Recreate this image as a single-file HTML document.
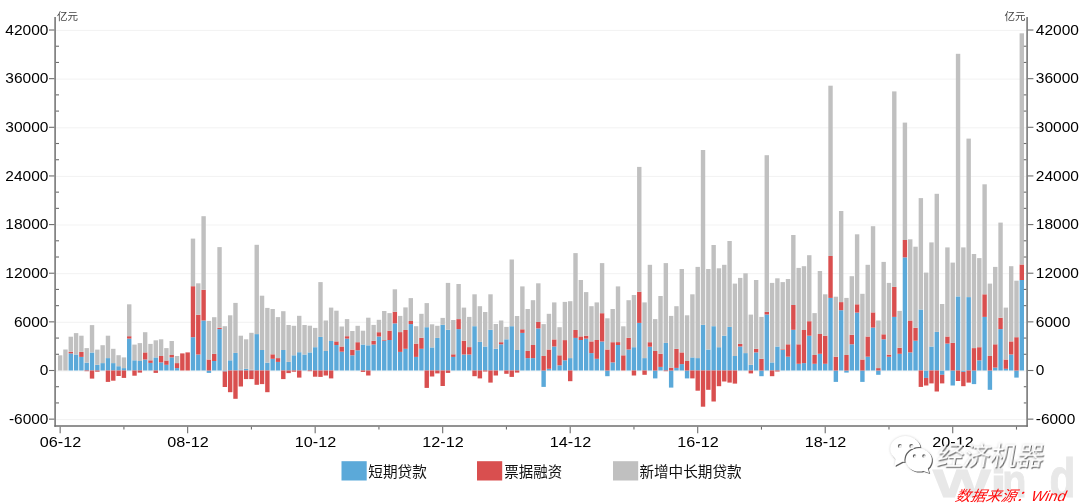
<!DOCTYPE html>
<html lang="zh"><head><meta charset="utf-8"><title>chart</title>
<style>html,body{margin:0;padding:0;background:#fff}body{width:1080px;height:504px;overflow:hidden}svg{display:block}text{font-family:"Liberation Sans","Noto Sans CJK SC",sans-serif}.n{font-size:14.3px;fill:#000}.c{font-size:14.6px;fill:#111}.u{font-size:10.5px;fill:#444}</style></head><body>
<svg width="1080" height="504" viewBox="0 0 1080 504">
<rect width="1080" height="504" fill="#fff"/>
<g fill="#e8e8e8" stroke="#e8e8e8" stroke-width="1" font-weight="bold">
<text font-size="39.4" transform="translate(932.9 496.6) scale(1.55 1)">W</text>
<text font-size="39.4" transform="translate(990.45 496.6) scale(1.46 1)">i</text>
<text font-size="46" transform="translate(1002.2 496.6) scale(0.86 1)">n</text>
<text font-size="55" transform="translate(1049.6 496.6) scale(0.77 1)">d</text>
</g>
<line x1="56" x2="1026.3" y1="419.59" y2="419.59" stroke="#f1f1f1" stroke-width="0.9"/>
<line x1="56" x2="1026.3" y1="370.95" y2="370.95" stroke="#f1f1f1" stroke-width="0.9"/>
<line x1="56" x2="1026.3" y1="322.31" y2="322.31" stroke="#f1f1f1" stroke-width="0.9"/>
<line x1="56" x2="1026.3" y1="273.67" y2="273.67" stroke="#f1f1f1" stroke-width="0.9"/>
<line x1="56" x2="1026.3" y1="225.03" y2="225.03" stroke="#f1f1f1" stroke-width="0.9"/>
<line x1="56" x2="1026.3" y1="176.39" y2="176.39" stroke="#f1f1f1" stroke-width="0.9"/>
<line x1="56" x2="1026.3" y1="127.75" y2="127.75" stroke="#f1f1f1" stroke-width="0.9"/>
<line x1="56" x2="1026.3" y1="79.11" y2="79.11" stroke="#f1f1f1" stroke-width="0.9"/>
<line x1="56" x2="1026.3" y1="30.47" y2="30.47" stroke="#f1f1f1" stroke-width="0.9"/>
<rect x="57.95" y="355.30" width="4.4" height="15.20" fill="#c0c0c0"/>
<rect x="63.26" y="349.50" width="4.4" height="21.00" fill="#c0c0c0"/>
<rect x="68.58" y="353.40" width="4.4" height="17.10" fill="#5ba9d9"/>
<rect x="68.58" y="351.70" width="4.4" height="1.70" fill="#d94f4f"/>
<rect x="68.58" y="336.70" width="4.4" height="15.00" fill="#c0c0c0"/>
<rect x="73.89" y="354.50" width="4.4" height="16.00" fill="#5ba9d9"/>
<rect x="73.89" y="333.10" width="4.4" height="21.40" fill="#c0c0c0"/>
<rect x="79.20" y="356.90" width="4.4" height="13.60" fill="#5ba9d9"/>
<rect x="79.20" y="351.90" width="4.4" height="5.00" fill="#d94f4f"/>
<rect x="79.20" y="335.70" width="4.4" height="16.20" fill="#c0c0c0"/>
<rect x="84.52" y="362.60" width="4.4" height="7.90" fill="#5ba9d9"/>
<rect x="84.52" y="370.50" width="4.4" height="0.70" fill="#d94f4f"/>
<rect x="84.52" y="348.10" width="4.4" height="14.50" fill="#c0c0c0"/>
<rect x="89.83" y="352.50" width="4.4" height="18.00" fill="#5ba9d9"/>
<rect x="89.83" y="370.50" width="4.4" height="8.10" fill="#d94f4f"/>
<rect x="89.83" y="325.10" width="4.4" height="27.40" fill="#c0c0c0"/>
<rect x="95.14" y="364.80" width="4.4" height="5.70" fill="#5ba9d9"/>
<rect x="95.14" y="370.50" width="4.4" height="1.20" fill="#d94f4f"/>
<rect x="95.14" y="349.60" width="4.4" height="15.20" fill="#c0c0c0"/>
<rect x="100.45" y="363.10" width="4.4" height="7.40" fill="#5ba9d9"/>
<rect x="100.45" y="345.20" width="4.4" height="17.90" fill="#c0c0c0"/>
<rect x="105.77" y="358.10" width="4.4" height="12.40" fill="#5ba9d9"/>
<rect x="105.77" y="370.50" width="4.4" height="11.40" fill="#d94f4f"/>
<rect x="105.77" y="335.70" width="4.4" height="22.40" fill="#c0c0c0"/>
<rect x="111.08" y="363.10" width="4.4" height="7.40" fill="#5ba9d9"/>
<rect x="111.08" y="370.50" width="4.4" height="10.20" fill="#d94f4f"/>
<rect x="111.08" y="348.80" width="4.4" height="14.30" fill="#c0c0c0"/>
<rect x="116.39" y="366.20" width="4.4" height="4.30" fill="#5ba9d9"/>
<rect x="116.39" y="370.50" width="4.4" height="5.50" fill="#d94f4f"/>
<rect x="116.39" y="355.20" width="4.4" height="11.00" fill="#c0c0c0"/>
<rect x="121.71" y="368.10" width="4.4" height="2.40" fill="#5ba9d9"/>
<rect x="121.71" y="370.50" width="4.4" height="7.40" fill="#d94f4f"/>
<rect x="121.71" y="357.40" width="4.4" height="10.70" fill="#c0c0c0"/>
<rect x="127.02" y="338.60" width="4.4" height="31.90" fill="#5ba9d9"/>
<rect x="127.02" y="336.20" width="4.4" height="2.40" fill="#d94f4f"/>
<rect x="127.02" y="304.30" width="4.4" height="31.90" fill="#c0c0c0"/>
<rect x="132.33" y="360.30" width="4.4" height="10.20" fill="#5ba9d9"/>
<rect x="132.33" y="370.50" width="4.4" height="5.20" fill="#d94f4f"/>
<rect x="132.33" y="344.60" width="4.4" height="15.70" fill="#c0c0c0"/>
<rect x="137.65" y="361.00" width="4.4" height="9.50" fill="#5ba9d9"/>
<rect x="137.65" y="370.50" width="4.4" height="2.10" fill="#d94f4f"/>
<rect x="137.65" y="343.10" width="4.4" height="17.90" fill="#c0c0c0"/>
<rect x="142.96" y="359.50" width="4.4" height="11.00" fill="#5ba9d9"/>
<rect x="142.96" y="352.40" width="4.4" height="7.10" fill="#d94f4f"/>
<rect x="142.96" y="332.20" width="4.4" height="20.20" fill="#c0c0c0"/>
<rect x="148.27" y="362.90" width="4.4" height="7.60" fill="#5ba9d9"/>
<rect x="148.27" y="360.30" width="4.4" height="2.60" fill="#d94f4f"/>
<rect x="148.27" y="343.90" width="4.4" height="16.40" fill="#c0c0c0"/>
<rect x="153.58" y="357.40" width="4.4" height="13.10" fill="#5ba9d9"/>
<rect x="153.58" y="370.50" width="4.4" height="2.40" fill="#d94f4f"/>
<rect x="153.58" y="340.30" width="4.4" height="17.10" fill="#c0c0c0"/>
<rect x="158.90" y="362.40" width="4.4" height="8.10" fill="#5ba9d9"/>
<rect x="158.90" y="356.00" width="4.4" height="6.40" fill="#d94f4f"/>
<rect x="158.90" y="339.30" width="4.4" height="16.70" fill="#c0c0c0"/>
<rect x="164.21" y="364.80" width="4.4" height="5.70" fill="#5ba9d9"/>
<rect x="164.21" y="360.50" width="4.4" height="4.30" fill="#d94f4f"/>
<rect x="164.21" y="348.10" width="4.4" height="12.40" fill="#c0c0c0"/>
<rect x="169.52" y="357.40" width="4.4" height="13.10" fill="#5ba9d9"/>
<rect x="169.52" y="355.00" width="4.4" height="2.40" fill="#d94f4f"/>
<rect x="169.52" y="341.00" width="4.4" height="14.00" fill="#c0c0c0"/>
<rect x="174.84" y="368.10" width="4.4" height="2.40" fill="#5ba9d9"/>
<rect x="174.84" y="363.10" width="4.4" height="5.00" fill="#d94f4f"/>
<rect x="174.84" y="356.00" width="4.4" height="7.10" fill="#c0c0c0"/>
<rect x="180.15" y="353.40" width="4.4" height="17.10" fill="#d94f4f"/>
<rect x="185.46" y="352.40" width="4.4" height="18.10" fill="#d94f4f"/>
<rect x="190.78" y="337.20" width="4.4" height="33.30" fill="#5ba9d9"/>
<rect x="190.78" y="286.20" width="4.4" height="51.00" fill="#d94f4f"/>
<rect x="190.78" y="238.60" width="4.4" height="47.60" fill="#c0c0c0"/>
<rect x="196.09" y="354.50" width="4.4" height="16.00" fill="#5ba9d9"/>
<rect x="196.09" y="314.80" width="4.4" height="39.70" fill="#d94f4f"/>
<rect x="196.09" y="283.30" width="4.4" height="31.50" fill="#c0c0c0"/>
<rect x="201.40" y="320.50" width="4.4" height="50.00" fill="#5ba9d9"/>
<rect x="201.40" y="289.80" width="4.4" height="30.70" fill="#d94f4f"/>
<rect x="201.40" y="216.20" width="4.4" height="73.60" fill="#c0c0c0"/>
<rect x="206.71" y="370.50" width="4.4" height="2.40" fill="#5ba9d9"/>
<rect x="206.71" y="359.50" width="4.4" height="11.00" fill="#d94f4f"/>
<rect x="206.71" y="320.90" width="4.4" height="38.60" fill="#c0c0c0"/>
<rect x="212.03" y="361.00" width="4.4" height="9.50" fill="#5ba9d9"/>
<rect x="212.03" y="353.90" width="4.4" height="7.10" fill="#d94f4f"/>
<rect x="212.03" y="317.20" width="4.4" height="36.70" fill="#c0c0c0"/>
<rect x="217.34" y="329.10" width="4.4" height="41.40" fill="#5ba9d9"/>
<rect x="217.34" y="327.70" width="4.4" height="1.40" fill="#d94f4f"/>
<rect x="217.34" y="247.10" width="4.4" height="80.60" fill="#c0c0c0"/>
<rect x="222.65" y="370.50" width="4.4" height="1.00" fill="#5ba9d9"/>
<rect x="222.65" y="371.50" width="4.4" height="15.50" fill="#d94f4f"/>
<rect x="222.65" y="326.20" width="4.4" height="44.30" fill="#c0c0c0"/>
<rect x="227.97" y="360.30" width="4.4" height="10.20" fill="#5ba9d9"/>
<rect x="227.97" y="370.50" width="4.4" height="21.70" fill="#d94f4f"/>
<rect x="227.97" y="315.30" width="4.4" height="45.00" fill="#c0c0c0"/>
<rect x="233.28" y="352.90" width="4.4" height="17.60" fill="#5ba9d9"/>
<rect x="233.28" y="370.50" width="4.4" height="28.30" fill="#d94f4f"/>
<rect x="233.28" y="302.90" width="4.4" height="50.00" fill="#c0c0c0"/>
<rect x="238.59" y="369.50" width="4.4" height="1.00" fill="#5ba9d9"/>
<rect x="238.59" y="370.50" width="4.4" height="16.00" fill="#d94f4f"/>
<rect x="238.59" y="335.70" width="4.4" height="33.80" fill="#c0c0c0"/>
<rect x="243.91" y="368.80" width="4.4" height="1.70" fill="#5ba9d9"/>
<rect x="243.91" y="370.50" width="4.4" height="8.60" fill="#d94f4f"/>
<rect x="243.91" y="339.30" width="4.4" height="29.50" fill="#c0c0c0"/>
<rect x="249.22" y="369.80" width="4.4" height="0.70" fill="#5ba9d9"/>
<rect x="249.22" y="370.50" width="4.4" height="8.60" fill="#d94f4f"/>
<rect x="249.22" y="332.80" width="4.4" height="37.00" fill="#c0c0c0"/>
<rect x="254.53" y="334.10" width="4.4" height="36.40" fill="#5ba9d9"/>
<rect x="254.53" y="370.50" width="4.4" height="14.30" fill="#d94f4f"/>
<rect x="254.53" y="244.80" width="4.4" height="89.30" fill="#c0c0c0"/>
<rect x="259.84" y="350.00" width="4.4" height="20.50" fill="#5ba9d9"/>
<rect x="259.84" y="370.50" width="4.4" height="13.60" fill="#d94f4f"/>
<rect x="259.84" y="295.70" width="4.4" height="54.30" fill="#c0c0c0"/>
<rect x="265.16" y="362.60" width="4.4" height="7.90" fill="#5ba9d9"/>
<rect x="265.16" y="370.50" width="4.4" height="21.70" fill="#d94f4f"/>
<rect x="265.16" y="307.90" width="4.4" height="54.70" fill="#c0c0c0"/>
<rect x="270.47" y="358.80" width="4.4" height="11.70" fill="#5ba9d9"/>
<rect x="270.47" y="354.30" width="4.4" height="4.50" fill="#d94f4f"/>
<rect x="270.47" y="309.00" width="4.4" height="45.30" fill="#c0c0c0"/>
<rect x="275.78" y="361.90" width="4.4" height="8.60" fill="#5ba9d9"/>
<rect x="275.78" y="358.10" width="4.4" height="3.80" fill="#d94f4f"/>
<rect x="275.78" y="317.10" width="4.4" height="41.00" fill="#c0c0c0"/>
<rect x="281.10" y="350.00" width="4.4" height="20.50" fill="#5ba9d9"/>
<rect x="281.10" y="370.50" width="4.4" height="8.60" fill="#d94f4f"/>
<rect x="281.10" y="311.20" width="4.4" height="38.80" fill="#c0c0c0"/>
<rect x="286.41" y="361.90" width="4.4" height="8.60" fill="#5ba9d9"/>
<rect x="286.41" y="370.50" width="4.4" height="2.60" fill="#d94f4f"/>
<rect x="286.41" y="325.00" width="4.4" height="36.90" fill="#c0c0c0"/>
<rect x="291.72" y="355.30" width="4.4" height="15.20" fill="#5ba9d9"/>
<rect x="291.72" y="370.50" width="4.4" height="1.20" fill="#d94f4f"/>
<rect x="291.72" y="325.80" width="4.4" height="29.50" fill="#c0c0c0"/>
<rect x="297.03" y="352.20" width="4.4" height="18.30" fill="#5ba9d9"/>
<rect x="297.03" y="370.50" width="4.4" height="7.10" fill="#d94f4f"/>
<rect x="297.03" y="315.80" width="4.4" height="36.40" fill="#c0c0c0"/>
<rect x="302.35" y="354.50" width="4.4" height="16.00" fill="#5ba9d9"/>
<rect x="302.35" y="325.00" width="4.4" height="29.50" fill="#c0c0c0"/>
<rect x="307.66" y="352.40" width="4.4" height="18.10" fill="#5ba9d9"/>
<rect x="307.66" y="370.50" width="4.4" height="0.70" fill="#d94f4f"/>
<rect x="307.66" y="325.70" width="4.4" height="26.70" fill="#c0c0c0"/>
<rect x="312.97" y="347.20" width="4.4" height="23.30" fill="#5ba9d9"/>
<rect x="312.97" y="370.50" width="4.4" height="6.20" fill="#d94f4f"/>
<rect x="312.97" y="327.90" width="4.4" height="19.30" fill="#c0c0c0"/>
<rect x="318.29" y="336.90" width="4.4" height="33.60" fill="#5ba9d9"/>
<rect x="318.29" y="370.50" width="4.4" height="6.40" fill="#d94f4f"/>
<rect x="318.29" y="282.10" width="4.4" height="54.80" fill="#c0c0c0"/>
<rect x="323.60" y="351.00" width="4.4" height="19.50" fill="#5ba9d9"/>
<rect x="323.60" y="370.50" width="4.4" height="5.00" fill="#d94f4f"/>
<rect x="323.60" y="320.50" width="4.4" height="30.50" fill="#c0c0c0"/>
<rect x="328.91" y="341.00" width="4.4" height="29.50" fill="#5ba9d9"/>
<rect x="328.91" y="370.50" width="4.4" height="7.90" fill="#d94f4f"/>
<rect x="328.91" y="307.60" width="4.4" height="33.40" fill="#c0c0c0"/>
<rect x="334.23" y="345.00" width="4.4" height="25.50" fill="#5ba9d9"/>
<rect x="334.23" y="341.40" width="4.4" height="3.60" fill="#d94f4f"/>
<rect x="334.23" y="310.70" width="4.4" height="30.70" fill="#c0c0c0"/>
<rect x="339.54" y="351.70" width="4.4" height="18.80" fill="#5ba9d9"/>
<rect x="339.54" y="346.50" width="4.4" height="5.20" fill="#d94f4f"/>
<rect x="339.54" y="326.50" width="4.4" height="20.00" fill="#c0c0c0"/>
<rect x="344.85" y="338.60" width="4.4" height="31.90" fill="#5ba9d9"/>
<rect x="344.85" y="336.20" width="4.4" height="2.40" fill="#d94f4f"/>
<rect x="344.85" y="319.10" width="4.4" height="17.10" fill="#c0c0c0"/>
<rect x="350.16" y="355.30" width="4.4" height="15.20" fill="#5ba9d9"/>
<rect x="350.16" y="349.60" width="4.4" height="5.70" fill="#d94f4f"/>
<rect x="350.16" y="331.00" width="4.4" height="18.60" fill="#c0c0c0"/>
<rect x="355.48" y="350.30" width="4.4" height="20.20" fill="#5ba9d9"/>
<rect x="355.48" y="342.20" width="4.4" height="8.10" fill="#d94f4f"/>
<rect x="355.48" y="325.80" width="4.4" height="16.40" fill="#c0c0c0"/>
<rect x="360.79" y="344.50" width="4.4" height="26.00" fill="#5ba9d9"/>
<rect x="360.79" y="370.50" width="4.4" height="1.40" fill="#d94f4f"/>
<rect x="360.79" y="330.70" width="4.4" height="13.80" fill="#c0c0c0"/>
<rect x="366.10" y="345.30" width="4.4" height="25.20" fill="#5ba9d9"/>
<rect x="366.10" y="370.50" width="4.4" height="5.00" fill="#d94f4f"/>
<rect x="366.10" y="317.70" width="4.4" height="27.60" fill="#c0c0c0"/>
<rect x="371.42" y="344.50" width="4.4" height="26.00" fill="#5ba9d9"/>
<rect x="371.42" y="340.90" width="4.4" height="3.60" fill="#d94f4f"/>
<rect x="371.42" y="324.90" width="4.4" height="16.00" fill="#c0c0c0"/>
<rect x="376.73" y="336.50" width="4.4" height="34.00" fill="#5ba9d9"/>
<rect x="376.73" y="332.20" width="4.4" height="4.30" fill="#d94f4f"/>
<rect x="376.73" y="319.80" width="4.4" height="12.40" fill="#c0c0c0"/>
<rect x="382.04" y="340.70" width="4.4" height="29.80" fill="#5ba9d9"/>
<rect x="382.04" y="340.00" width="4.4" height="0.70" fill="#d94f4f"/>
<rect x="382.04" y="311.00" width="4.4" height="29.00" fill="#c0c0c0"/>
<rect x="387.36" y="340.00" width="4.4" height="30.50" fill="#5ba9d9"/>
<rect x="387.36" y="330.70" width="4.4" height="9.30" fill="#d94f4f"/>
<rect x="387.36" y="313.10" width="4.4" height="17.60" fill="#c0c0c0"/>
<rect x="392.67" y="323.40" width="4.4" height="47.10" fill="#5ba9d9"/>
<rect x="392.67" y="311.70" width="4.4" height="11.70" fill="#d94f4f"/>
<rect x="392.67" y="289.30" width="4.4" height="22.40" fill="#c0c0c0"/>
<rect x="397.98" y="351.90" width="4.4" height="18.60" fill="#5ba9d9"/>
<rect x="397.98" y="332.10" width="4.4" height="19.80" fill="#d94f4f"/>
<rect x="397.98" y="315.90" width="4.4" height="16.20" fill="#c0c0c0"/>
<rect x="403.29" y="348.80" width="4.4" height="21.70" fill="#5ba9d9"/>
<rect x="403.29" y="330.00" width="4.4" height="18.80" fill="#d94f4f"/>
<rect x="403.29" y="307.40" width="4.4" height="22.60" fill="#c0c0c0"/>
<rect x="408.61" y="324.10" width="4.4" height="46.40" fill="#5ba9d9"/>
<rect x="408.61" y="321.00" width="4.4" height="3.10" fill="#d94f4f"/>
<rect x="408.61" y="298.10" width="4.4" height="22.90" fill="#c0c0c0"/>
<rect x="413.92" y="356.90" width="4.4" height="13.60" fill="#5ba9d9"/>
<rect x="413.92" y="343.60" width="4.4" height="13.30" fill="#d94f4f"/>
<rect x="413.92" y="326.20" width="4.4" height="17.40" fill="#c0c0c0"/>
<rect x="419.23" y="348.80" width="4.4" height="21.70" fill="#5ba9d9"/>
<rect x="419.23" y="337.80" width="4.4" height="11.00" fill="#d94f4f"/>
<rect x="419.23" y="313.80" width="4.4" height="24.00" fill="#c0c0c0"/>
<rect x="424.55" y="327.20" width="4.4" height="43.30" fill="#5ba9d9"/>
<rect x="424.55" y="370.50" width="4.4" height="17.40" fill="#d94f4f"/>
<rect x="424.55" y="303.10" width="4.4" height="24.10" fill="#c0c0c0"/>
<rect x="429.86" y="347.40" width="4.4" height="23.10" fill="#5ba9d9"/>
<rect x="429.86" y="370.50" width="4.4" height="6.00" fill="#d94f4f"/>
<rect x="429.86" y="324.30" width="4.4" height="23.10" fill="#c0c0c0"/>
<rect x="435.17" y="337.90" width="4.4" height="32.60" fill="#5ba9d9"/>
<rect x="435.17" y="370.50" width="4.4" height="2.90" fill="#d94f4f"/>
<rect x="435.17" y="325.80" width="4.4" height="12.10" fill="#c0c0c0"/>
<rect x="440.49" y="324.80" width="4.4" height="45.70" fill="#5ba9d9"/>
<rect x="440.49" y="370.50" width="4.4" height="15.50" fill="#d94f4f"/>
<rect x="440.49" y="317.90" width="4.4" height="6.90" fill="#c0c0c0"/>
<rect x="445.80" y="329.80" width="4.4" height="40.70" fill="#5ba9d9"/>
<rect x="445.80" y="370.50" width="4.4" height="2.40" fill="#d94f4f"/>
<rect x="445.80" y="282.90" width="4.4" height="46.90" fill="#c0c0c0"/>
<rect x="451.11" y="356.90" width="4.4" height="13.60" fill="#5ba9d9"/>
<rect x="451.11" y="354.30" width="4.4" height="2.60" fill="#d94f4f"/>
<rect x="451.11" y="320.00" width="4.4" height="34.30" fill="#c0c0c0"/>
<rect x="456.42" y="329.10" width="4.4" height="41.40" fill="#5ba9d9"/>
<rect x="456.42" y="319.10" width="4.4" height="10.00" fill="#d94f4f"/>
<rect x="456.42" y="284.00" width="4.4" height="35.10" fill="#c0c0c0"/>
<rect x="461.74" y="354.50" width="4.4" height="16.00" fill="#5ba9d9"/>
<rect x="461.74" y="340.70" width="4.4" height="13.80" fill="#d94f4f"/>
<rect x="461.74" y="307.60" width="4.4" height="33.10" fill="#c0c0c0"/>
<rect x="467.05" y="354.50" width="4.4" height="16.00" fill="#5ba9d9"/>
<rect x="467.05" y="347.10" width="4.4" height="7.40" fill="#d94f4f"/>
<rect x="467.05" y="316.90" width="4.4" height="30.20" fill="#c0c0c0"/>
<rect x="472.36" y="326.20" width="4.4" height="44.30" fill="#5ba9d9"/>
<rect x="472.36" y="370.50" width="4.4" height="5.70" fill="#d94f4f"/>
<rect x="472.36" y="294.30" width="4.4" height="31.90" fill="#c0c0c0"/>
<rect x="477.68" y="341.90" width="4.4" height="28.60" fill="#5ba9d9"/>
<rect x="477.68" y="370.50" width="4.4" height="7.90" fill="#d94f4f"/>
<rect x="477.68" y="306.20" width="4.4" height="35.70" fill="#c0c0c0"/>
<rect x="482.99" y="346.50" width="4.4" height="24.00" fill="#5ba9d9"/>
<rect x="482.99" y="370.50" width="4.4" height="1.00" fill="#d94f4f"/>
<rect x="482.99" y="312.00" width="4.4" height="34.50" fill="#c0c0c0"/>
<rect x="488.30" y="329.80" width="4.4" height="40.70" fill="#5ba9d9"/>
<rect x="488.30" y="370.50" width="4.4" height="12.10" fill="#d94f4f"/>
<rect x="488.30" y="294.30" width="4.4" height="35.50" fill="#c0c0c0"/>
<rect x="493.62" y="348.80" width="4.4" height="21.70" fill="#5ba9d9"/>
<rect x="493.62" y="370.50" width="4.4" height="5.00" fill="#d94f4f"/>
<rect x="493.62" y="324.00" width="4.4" height="24.80" fill="#c0c0c0"/>
<rect x="498.93" y="344.30" width="4.4" height="26.20" fill="#5ba9d9"/>
<rect x="498.93" y="342.20" width="4.4" height="2.10" fill="#d94f4f"/>
<rect x="498.93" y="320.50" width="4.4" height="21.70" fill="#c0c0c0"/>
<rect x="504.24" y="339.30" width="4.4" height="31.20" fill="#5ba9d9"/>
<rect x="504.24" y="370.50" width="4.4" height="3.30" fill="#d94f4f"/>
<rect x="504.24" y="326.90" width="4.4" height="12.40" fill="#c0c0c0"/>
<rect x="509.55" y="326.20" width="4.4" height="44.30" fill="#5ba9d9"/>
<rect x="509.55" y="370.50" width="4.4" height="6.40" fill="#d94f4f"/>
<rect x="509.55" y="259.50" width="4.4" height="66.70" fill="#c0c0c0"/>
<rect x="514.87" y="350.00" width="4.4" height="20.50" fill="#5ba9d9"/>
<rect x="514.87" y="370.50" width="4.4" height="2.10" fill="#d94f4f"/>
<rect x="514.87" y="316.00" width="4.4" height="34.00" fill="#c0c0c0"/>
<rect x="520.18" y="332.90" width="4.4" height="37.60" fill="#5ba9d9"/>
<rect x="520.18" y="329.30" width="4.4" height="3.60" fill="#d94f4f"/>
<rect x="520.18" y="286.40" width="4.4" height="42.90" fill="#c0c0c0"/>
<rect x="525.49" y="358.10" width="4.4" height="12.40" fill="#5ba9d9"/>
<rect x="525.49" y="351.00" width="4.4" height="7.10" fill="#d94f4f"/>
<rect x="525.49" y="309.00" width="4.4" height="42.00" fill="#c0c0c0"/>
<rect x="530.81" y="358.10" width="4.4" height="12.40" fill="#5ba9d9"/>
<rect x="530.81" y="345.00" width="4.4" height="13.10" fill="#d94f4f"/>
<rect x="530.81" y="300.20" width="4.4" height="44.80" fill="#c0c0c0"/>
<rect x="536.12" y="328.40" width="4.4" height="42.10" fill="#5ba9d9"/>
<rect x="536.12" y="322.00" width="4.4" height="6.40" fill="#d94f4f"/>
<rect x="536.12" y="283.30" width="4.4" height="38.70" fill="#c0c0c0"/>
<rect x="541.43" y="370.50" width="4.4" height="16.40" fill="#5ba9d9"/>
<rect x="541.43" y="356.00" width="4.4" height="14.50" fill="#d94f4f"/>
<rect x="541.43" y="324.10" width="4.4" height="31.90" fill="#c0c0c0"/>
<rect x="546.75" y="368.80" width="4.4" height="1.70" fill="#5ba9d9"/>
<rect x="546.75" y="349.50" width="4.4" height="19.30" fill="#d94f4f"/>
<rect x="546.75" y="313.80" width="4.4" height="35.70" fill="#c0c0c0"/>
<rect x="552.06" y="346.50" width="4.4" height="24.00" fill="#5ba9d9"/>
<rect x="552.06" y="339.40" width="4.4" height="7.10" fill="#d94f4f"/>
<rect x="552.06" y="302.40" width="4.4" height="37.00" fill="#c0c0c0"/>
<rect x="557.37" y="365.30" width="4.4" height="5.20" fill="#5ba9d9"/>
<rect x="557.37" y="355.30" width="4.4" height="10.00" fill="#d94f4f"/>
<rect x="557.37" y="327.20" width="4.4" height="28.10" fill="#c0c0c0"/>
<rect x="562.68" y="360.30" width="4.4" height="10.20" fill="#5ba9d9"/>
<rect x="562.68" y="340.10" width="4.4" height="20.20" fill="#d94f4f"/>
<rect x="562.68" y="301.90" width="4.4" height="38.20" fill="#c0c0c0"/>
<rect x="568.00" y="358.10" width="4.4" height="12.40" fill="#5ba9d9"/>
<rect x="568.00" y="370.50" width="4.4" height="10.70" fill="#d94f4f"/>
<rect x="568.00" y="301.20" width="4.4" height="56.90" fill="#c0c0c0"/>
<rect x="573.31" y="337.90" width="4.4" height="32.60" fill="#5ba9d9"/>
<rect x="573.31" y="330.00" width="4.4" height="7.90" fill="#d94f4f"/>
<rect x="573.31" y="253.10" width="4.4" height="76.90" fill="#c0c0c0"/>
<rect x="578.62" y="340.00" width="4.4" height="30.50" fill="#5ba9d9"/>
<rect x="578.62" y="336.40" width="4.4" height="3.60" fill="#d94f4f"/>
<rect x="578.62" y="280.00" width="4.4" height="56.40" fill="#c0c0c0"/>
<rect x="583.94" y="338.60" width="4.4" height="31.90" fill="#5ba9d9"/>
<rect x="583.94" y="335.70" width="4.4" height="2.90" fill="#d94f4f"/>
<rect x="583.94" y="292.10" width="4.4" height="43.60" fill="#c0c0c0"/>
<rect x="589.25" y="353.10" width="4.4" height="17.40" fill="#5ba9d9"/>
<rect x="589.25" y="341.40" width="4.4" height="11.70" fill="#d94f4f"/>
<rect x="589.25" y="306.20" width="4.4" height="35.20" fill="#c0c0c0"/>
<rect x="594.56" y="358.80" width="4.4" height="11.70" fill="#5ba9d9"/>
<rect x="594.56" y="340.00" width="4.4" height="18.80" fill="#d94f4f"/>
<rect x="594.56" y="302.40" width="4.4" height="37.60" fill="#c0c0c0"/>
<rect x="599.88" y="341.50" width="4.4" height="29.00" fill="#5ba9d9"/>
<rect x="599.88" y="313.20" width="4.4" height="28.30" fill="#d94f4f"/>
<rect x="599.88" y="263.10" width="4.4" height="50.10" fill="#c0c0c0"/>
<rect x="605.19" y="370.50" width="4.4" height="5.70" fill="#5ba9d9"/>
<rect x="605.19" y="349.50" width="4.4" height="21.00" fill="#d94f4f"/>
<rect x="605.19" y="318.30" width="4.4" height="31.20" fill="#c0c0c0"/>
<rect x="610.50" y="362.40" width="4.4" height="8.10" fill="#5ba9d9"/>
<rect x="610.50" y="342.20" width="4.4" height="20.20" fill="#d94f4f"/>
<rect x="610.50" y="309.00" width="4.4" height="33.20" fill="#c0c0c0"/>
<rect x="615.81" y="345.00" width="4.4" height="25.50" fill="#5ba9d9"/>
<rect x="615.81" y="342.10" width="4.4" height="2.90" fill="#d94f4f"/>
<rect x="615.81" y="286.40" width="4.4" height="55.70" fill="#c0c0c0"/>
<rect x="621.13" y="355.30" width="4.4" height="15.20" fill="#d94f4f"/>
<rect x="621.13" y="326.30" width="4.4" height="29.00" fill="#c0c0c0"/>
<rect x="626.44" y="349.50" width="4.4" height="21.00" fill="#5ba9d9"/>
<rect x="626.44" y="337.80" width="4.4" height="11.70" fill="#d94f4f"/>
<rect x="626.44" y="300.20" width="4.4" height="37.60" fill="#c0c0c0"/>
<rect x="631.75" y="347.20" width="4.4" height="23.30" fill="#5ba9d9"/>
<rect x="631.75" y="370.50" width="4.4" height="5.00" fill="#d94f4f"/>
<rect x="631.75" y="295.00" width="4.4" height="52.20" fill="#c0c0c0"/>
<rect x="637.07" y="322.90" width="4.4" height="47.60" fill="#5ba9d9"/>
<rect x="637.07" y="291.70" width="4.4" height="31.20" fill="#d94f4f"/>
<rect x="637.07" y="166.90" width="4.4" height="124.80" fill="#c0c0c0"/>
<rect x="642.38" y="358.10" width="4.4" height="12.40" fill="#5ba9d9"/>
<rect x="642.38" y="370.50" width="4.4" height="4.30" fill="#d94f4f"/>
<rect x="642.38" y="302.40" width="4.4" height="55.70" fill="#c0c0c0"/>
<rect x="647.69" y="346.70" width="4.4" height="23.80" fill="#5ba9d9"/>
<rect x="647.69" y="342.20" width="4.4" height="4.50" fill="#d94f4f"/>
<rect x="647.69" y="264.80" width="4.4" height="77.40" fill="#c0c0c0"/>
<rect x="653.01" y="370.50" width="4.4" height="7.90" fill="#5ba9d9"/>
<rect x="653.01" y="351.00" width="4.4" height="19.50" fill="#d94f4f"/>
<rect x="653.01" y="319.10" width="4.4" height="31.90" fill="#c0c0c0"/>
<rect x="658.32" y="366.90" width="4.4" height="3.60" fill="#5ba9d9"/>
<rect x="658.32" y="353.80" width="4.4" height="13.10" fill="#d94f4f"/>
<rect x="658.32" y="296.00" width="4.4" height="57.80" fill="#c0c0c0"/>
<rect x="663.63" y="342.90" width="4.4" height="27.60" fill="#5ba9d9"/>
<rect x="663.63" y="370.50" width="4.4" height="0.70" fill="#d94f4f"/>
<rect x="663.63" y="263.10" width="4.4" height="79.80" fill="#c0c0c0"/>
<rect x="668.94" y="370.50" width="4.4" height="17.10" fill="#5ba9d9"/>
<rect x="668.94" y="367.60" width="4.4" height="2.90" fill="#d94f4f"/>
<rect x="668.94" y="315.90" width="4.4" height="51.70" fill="#c0c0c0"/>
<rect x="674.26" y="367.90" width="4.4" height="2.60" fill="#5ba9d9"/>
<rect x="674.26" y="348.90" width="4.4" height="19.00" fill="#d94f4f"/>
<rect x="674.26" y="306.20" width="4.4" height="42.70" fill="#c0c0c0"/>
<rect x="679.57" y="364.10" width="4.4" height="6.40" fill="#5ba9d9"/>
<rect x="679.57" y="352.40" width="4.4" height="11.70" fill="#d94f4f"/>
<rect x="679.57" y="269.00" width="4.4" height="83.40" fill="#c0c0c0"/>
<rect x="684.88" y="370.50" width="4.4" height="7.90" fill="#5ba9d9"/>
<rect x="684.88" y="361.00" width="4.4" height="9.50" fill="#d94f4f"/>
<rect x="684.88" y="315.30" width="4.4" height="45.70" fill="#c0c0c0"/>
<rect x="690.20" y="357.40" width="4.4" height="13.10" fill="#5ba9d9"/>
<rect x="690.20" y="370.50" width="4.4" height="7.90" fill="#d94f4f"/>
<rect x="690.20" y="294.30" width="4.4" height="63.10" fill="#c0c0c0"/>
<rect x="695.51" y="358.10" width="4.4" height="12.40" fill="#5ba9d9"/>
<rect x="695.51" y="370.50" width="4.4" height="20.20" fill="#d94f4f"/>
<rect x="695.51" y="266.90" width="4.4" height="91.20" fill="#c0c0c0"/>
<rect x="700.82" y="324.80" width="4.4" height="45.70" fill="#5ba9d9"/>
<rect x="700.82" y="370.50" width="4.4" height="36.20" fill="#d94f4f"/>
<rect x="700.82" y="150.00" width="4.4" height="174.80" fill="#c0c0c0"/>
<rect x="706.14" y="349.50" width="4.4" height="21.00" fill="#5ba9d9"/>
<rect x="706.14" y="370.50" width="4.4" height="19.30" fill="#d94f4f"/>
<rect x="706.14" y="269.00" width="4.4" height="80.50" fill="#c0c0c0"/>
<rect x="711.45" y="326.20" width="4.4" height="44.30" fill="#5ba9d9"/>
<rect x="711.45" y="370.50" width="4.4" height="31.00" fill="#d94f4f"/>
<rect x="711.45" y="245.00" width="4.4" height="81.20" fill="#c0c0c0"/>
<rect x="716.76" y="347.20" width="4.4" height="23.30" fill="#5ba9d9"/>
<rect x="716.76" y="370.50" width="4.4" height="15.70" fill="#d94f4f"/>
<rect x="716.76" y="268.30" width="4.4" height="78.90" fill="#c0c0c0"/>
<rect x="722.07" y="335.70" width="4.4" height="34.80" fill="#5ba9d9"/>
<rect x="722.07" y="370.50" width="4.4" height="11.00" fill="#d94f4f"/>
<rect x="722.07" y="264.80" width="4.4" height="70.90" fill="#c0c0c0"/>
<rect x="727.39" y="326.90" width="4.4" height="43.60" fill="#5ba9d9"/>
<rect x="727.39" y="370.50" width="4.4" height="12.10" fill="#d94f4f"/>
<rect x="727.39" y="241.00" width="4.4" height="85.90" fill="#c0c0c0"/>
<rect x="732.70" y="356.00" width="4.4" height="14.50" fill="#5ba9d9"/>
<rect x="732.70" y="370.50" width="4.4" height="13.10" fill="#d94f4f"/>
<rect x="732.70" y="283.60" width="4.4" height="72.40" fill="#c0c0c0"/>
<rect x="738.01" y="346.50" width="4.4" height="24.00" fill="#5ba9d9"/>
<rect x="738.01" y="343.90" width="4.4" height="2.60" fill="#d94f4f"/>
<rect x="738.01" y="277.90" width="4.4" height="66.00" fill="#c0c0c0"/>
<rect x="743.33" y="353.10" width="4.4" height="17.40" fill="#5ba9d9"/>
<rect x="743.33" y="273.30" width="4.4" height="79.80" fill="#c0c0c0"/>
<rect x="748.64" y="364.80" width="4.4" height="5.70" fill="#5ba9d9"/>
<rect x="748.64" y="370.50" width="4.4" height="2.90" fill="#d94f4f"/>
<rect x="748.64" y="314.60" width="4.4" height="50.20" fill="#c0c0c0"/>
<rect x="753.95" y="352.40" width="4.4" height="18.10" fill="#5ba9d9"/>
<rect x="753.95" y="348.80" width="4.4" height="3.60" fill="#d94f4f"/>
<rect x="753.95" y="280.00" width="4.4" height="68.80" fill="#c0c0c0"/>
<rect x="759.27" y="370.50" width="4.4" height="5.70" fill="#5ba9d9"/>
<rect x="759.27" y="358.80" width="4.4" height="11.70" fill="#d94f4f"/>
<rect x="759.27" y="316.90" width="4.4" height="41.90" fill="#c0c0c0"/>
<rect x="764.58" y="314.50" width="4.4" height="56.00" fill="#5ba9d9"/>
<rect x="764.58" y="311.90" width="4.4" height="2.60" fill="#d94f4f"/>
<rect x="764.58" y="155.20" width="4.4" height="156.70" fill="#c0c0c0"/>
<rect x="769.89" y="362.40" width="4.4" height="8.10" fill="#5ba9d9"/>
<rect x="769.89" y="370.50" width="4.4" height="5.70" fill="#d94f4f"/>
<rect x="769.89" y="282.90" width="4.4" height="79.50" fill="#c0c0c0"/>
<rect x="775.20" y="346.50" width="4.4" height="24.00" fill="#5ba9d9"/>
<rect x="775.20" y="370.50" width="4.4" height="1.00" fill="#d94f4f"/>
<rect x="775.20" y="278.30" width="4.4" height="68.20" fill="#c0c0c0"/>
<rect x="780.52" y="350.00" width="4.4" height="20.50" fill="#5ba9d9"/>
<rect x="780.52" y="349.30" width="4.4" height="0.70" fill="#d94f4f"/>
<rect x="780.52" y="282.10" width="4.4" height="67.20" fill="#c0c0c0"/>
<rect x="785.83" y="356.70" width="4.4" height="13.80" fill="#5ba9d9"/>
<rect x="785.83" y="344.30" width="4.4" height="12.40" fill="#d94f4f"/>
<rect x="785.83" y="279.00" width="4.4" height="65.30" fill="#c0c0c0"/>
<rect x="791.14" y="329.80" width="4.4" height="40.70" fill="#5ba9d9"/>
<rect x="791.14" y="305.00" width="4.4" height="24.80" fill="#d94f4f"/>
<rect x="791.14" y="235.00" width="4.4" height="70.00" fill="#c0c0c0"/>
<rect x="796.46" y="363.80" width="4.4" height="6.70" fill="#5ba9d9"/>
<rect x="796.46" y="344.30" width="4.4" height="19.50" fill="#d94f4f"/>
<rect x="796.46" y="267.90" width="4.4" height="76.40" fill="#c0c0c0"/>
<rect x="801.77" y="363.10" width="4.4" height="7.40" fill="#5ba9d9"/>
<rect x="801.77" y="330.00" width="4.4" height="33.10" fill="#d94f4f"/>
<rect x="801.77" y="266.20" width="4.4" height="63.80" fill="#c0c0c0"/>
<rect x="807.08" y="335.70" width="4.4" height="34.80" fill="#5ba9d9"/>
<rect x="807.08" y="321.20" width="4.4" height="14.50" fill="#d94f4f"/>
<rect x="807.08" y="255.20" width="4.4" height="66.00" fill="#c0c0c0"/>
<rect x="812.40" y="363.80" width="4.4" height="6.70" fill="#5ba9d9"/>
<rect x="812.40" y="355.00" width="4.4" height="8.80" fill="#d94f4f"/>
<rect x="812.40" y="313.10" width="4.4" height="41.90" fill="#c0c0c0"/>
<rect x="817.71" y="353.80" width="4.4" height="16.70" fill="#5ba9d9"/>
<rect x="817.71" y="334.00" width="4.4" height="19.80" fill="#d94f4f"/>
<rect x="817.71" y="271.00" width="4.4" height="63.00" fill="#c0c0c0"/>
<rect x="823.02" y="363.80" width="4.4" height="6.70" fill="#5ba9d9"/>
<rect x="823.02" y="335.70" width="4.4" height="28.10" fill="#d94f4f"/>
<rect x="823.02" y="294.30" width="4.4" height="41.40" fill="#c0c0c0"/>
<rect x="828.33" y="297.90" width="4.4" height="72.60" fill="#5ba9d9"/>
<rect x="828.33" y="256.00" width="4.4" height="41.90" fill="#d94f4f"/>
<rect x="828.33" y="85.70" width="4.4" height="170.30" fill="#c0c0c0"/>
<rect x="833.65" y="370.50" width="4.4" height="11.40" fill="#5ba9d9"/>
<rect x="833.65" y="356.70" width="4.4" height="13.80" fill="#d94f4f"/>
<rect x="833.65" y="296.70" width="4.4" height="60.00" fill="#c0c0c0"/>
<rect x="838.96" y="310.20" width="4.4" height="60.30" fill="#5ba9d9"/>
<rect x="838.96" y="302.10" width="4.4" height="8.10" fill="#d94f4f"/>
<rect x="838.96" y="211.00" width="4.4" height="91.10" fill="#c0c0c0"/>
<rect x="844.27" y="370.50" width="4.4" height="2.10" fill="#5ba9d9"/>
<rect x="844.27" y="355.00" width="4.4" height="15.50" fill="#d94f4f"/>
<rect x="844.27" y="297.90" width="4.4" height="57.10" fill="#c0c0c0"/>
<rect x="849.59" y="344.30" width="4.4" height="26.20" fill="#5ba9d9"/>
<rect x="849.59" y="334.80" width="4.4" height="9.50" fill="#d94f4f"/>
<rect x="849.59" y="276.20" width="4.4" height="58.60" fill="#c0c0c0"/>
<rect x="854.90" y="312.60" width="4.4" height="57.90" fill="#5ba9d9"/>
<rect x="854.90" y="304.30" width="4.4" height="8.30" fill="#d94f4f"/>
<rect x="854.90" y="234.30" width="4.4" height="70.00" fill="#c0c0c0"/>
<rect x="860.21" y="370.50" width="4.4" height="11.40" fill="#5ba9d9"/>
<rect x="860.21" y="359.50" width="4.4" height="11.00" fill="#d94f4f"/>
<rect x="860.21" y="293.80" width="4.4" height="65.70" fill="#c0c0c0"/>
<rect x="865.53" y="356.70" width="4.4" height="13.80" fill="#5ba9d9"/>
<rect x="865.53" y="336.50" width="4.4" height="20.20" fill="#d94f4f"/>
<rect x="865.53" y="264.80" width="4.4" height="71.70" fill="#c0c0c0"/>
<rect x="870.84" y="327.60" width="4.4" height="42.90" fill="#5ba9d9"/>
<rect x="870.84" y="312.40" width="4.4" height="15.20" fill="#d94f4f"/>
<rect x="870.84" y="226.20" width="4.4" height="86.20" fill="#c0c0c0"/>
<rect x="876.15" y="370.50" width="4.4" height="4.30" fill="#5ba9d9"/>
<rect x="876.15" y="368.10" width="4.4" height="2.40" fill="#d94f4f"/>
<rect x="876.15" y="320.50" width="4.4" height="47.60" fill="#c0c0c0"/>
<rect x="881.46" y="339.30" width="4.4" height="31.20" fill="#5ba9d9"/>
<rect x="881.46" y="334.30" width="4.4" height="5.00" fill="#d94f4f"/>
<rect x="881.46" y="261.90" width="4.4" height="72.40" fill="#c0c0c0"/>
<rect x="886.78" y="356.70" width="4.4" height="13.80" fill="#5ba9d9"/>
<rect x="886.78" y="354.60" width="4.4" height="2.10" fill="#d94f4f"/>
<rect x="886.78" y="282.90" width="4.4" height="71.70" fill="#c0c0c0"/>
<rect x="892.09" y="316.90" width="4.4" height="53.60" fill="#5ba9d9"/>
<rect x="892.09" y="286.90" width="4.4" height="30.00" fill="#d94f4f"/>
<rect x="892.09" y="91.40" width="4.4" height="195.50" fill="#c0c0c0"/>
<rect x="897.40" y="353.80" width="4.4" height="16.70" fill="#5ba9d9"/>
<rect x="897.40" y="347.80" width="4.4" height="6.00" fill="#d94f4f"/>
<rect x="897.40" y="310.90" width="4.4" height="36.90" fill="#c0c0c0"/>
<rect x="902.72" y="257.40" width="4.4" height="113.10" fill="#5ba9d9"/>
<rect x="902.72" y="240.00" width="4.4" height="17.40" fill="#d94f4f"/>
<rect x="902.72" y="122.60" width="4.4" height="117.40" fill="#c0c0c0"/>
<rect x="908.03" y="352.40" width="4.4" height="18.10" fill="#5ba9d9"/>
<rect x="908.03" y="320.50" width="4.4" height="31.90" fill="#d94f4f"/>
<rect x="908.03" y="239.30" width="4.4" height="81.20" fill="#c0c0c0"/>
<rect x="913.34" y="340.70" width="4.4" height="29.80" fill="#5ba9d9"/>
<rect x="913.34" y="327.80" width="4.4" height="12.90" fill="#d94f4f"/>
<rect x="913.34" y="246.70" width="4.4" height="81.10" fill="#c0c0c0"/>
<rect x="918.66" y="309.50" width="4.4" height="61.00" fill="#5ba9d9"/>
<rect x="918.66" y="370.50" width="4.4" height="16.40" fill="#d94f4f"/>
<rect x="918.66" y="198.10" width="4.4" height="111.40" fill="#c0c0c0"/>
<rect x="923.97" y="370.50" width="4.4" height="7.40" fill="#5ba9d9"/>
<rect x="923.97" y="377.90" width="4.4" height="7.60" fill="#d94f4f"/>
<rect x="923.97" y="272.60" width="4.4" height="97.90" fill="#c0c0c0"/>
<rect x="929.28" y="346.50" width="4.4" height="24.00" fill="#5ba9d9"/>
<rect x="929.28" y="370.50" width="4.4" height="12.90" fill="#d94f4f"/>
<rect x="929.28" y="242.40" width="4.4" height="104.10" fill="#c0c0c0"/>
<rect x="934.59" y="331.90" width="4.4" height="38.60" fill="#5ba9d9"/>
<rect x="934.59" y="370.50" width="4.4" height="21.00" fill="#d94f4f"/>
<rect x="934.59" y="193.80" width="4.4" height="138.10" fill="#c0c0c0"/>
<rect x="939.91" y="370.50" width="4.4" height="4.30" fill="#5ba9d9"/>
<rect x="939.91" y="374.80" width="4.4" height="8.60" fill="#d94f4f"/>
<rect x="939.91" y="304.00" width="4.4" height="66.50" fill="#c0c0c0"/>
<rect x="945.22" y="343.60" width="4.4" height="26.90" fill="#5ba9d9"/>
<rect x="945.22" y="336.50" width="4.4" height="7.10" fill="#d94f4f"/>
<rect x="945.22" y="247.40" width="4.4" height="89.10" fill="#c0c0c0"/>
<rect x="950.53" y="370.50" width="4.4" height="15.00" fill="#5ba9d9"/>
<rect x="950.53" y="342.90" width="4.4" height="27.60" fill="#d94f4f"/>
<rect x="950.53" y="262.60" width="4.4" height="80.30" fill="#c0c0c0"/>
<rect x="955.85" y="296.40" width="4.4" height="74.10" fill="#5ba9d9"/>
<rect x="955.85" y="370.50" width="4.4" height="10.50" fill="#d94f4f"/>
<rect x="955.85" y="53.80" width="4.4" height="242.60" fill="#c0c0c0"/>
<rect x="961.16" y="370.50" width="4.4" height="1.40" fill="#5ba9d9"/>
<rect x="961.16" y="371.90" width="4.4" height="14.30" fill="#d94f4f"/>
<rect x="961.16" y="247.40" width="4.4" height="123.10" fill="#c0c0c0"/>
<rect x="966.47" y="297.10" width="4.4" height="73.40" fill="#5ba9d9"/>
<rect x="966.47" y="370.50" width="4.4" height="12.10" fill="#d94f4f"/>
<rect x="966.47" y="138.60" width="4.4" height="158.50" fill="#c0c0c0"/>
<rect x="971.79" y="370.50" width="4.4" height="13.60" fill="#5ba9d9"/>
<rect x="971.79" y="348.10" width="4.4" height="22.40" fill="#d94f4f"/>
<rect x="971.79" y="254.00" width="4.4" height="94.10" fill="#c0c0c0"/>
<rect x="977.10" y="360.30" width="4.4" height="10.20" fill="#5ba9d9"/>
<rect x="977.10" y="347.20" width="4.4" height="13.10" fill="#d94f4f"/>
<rect x="977.10" y="258.10" width="4.4" height="89.10" fill="#c0c0c0"/>
<rect x="982.41" y="316.90" width="4.4" height="53.60" fill="#5ba9d9"/>
<rect x="982.41" y="294.30" width="4.4" height="22.60" fill="#d94f4f"/>
<rect x="982.41" y="184.30" width="4.4" height="110.00" fill="#c0c0c0"/>
<rect x="987.72" y="370.50" width="4.4" height="19.30" fill="#5ba9d9"/>
<rect x="987.72" y="356.00" width="4.4" height="14.50" fill="#d94f4f"/>
<rect x="987.72" y="283.60" width="4.4" height="72.40" fill="#c0c0c0"/>
<rect x="993.04" y="367.60" width="4.4" height="2.90" fill="#5ba9d9"/>
<rect x="993.04" y="344.30" width="4.4" height="23.30" fill="#d94f4f"/>
<rect x="993.04" y="266.90" width="4.4" height="77.40" fill="#c0c0c0"/>
<rect x="998.35" y="329.10" width="4.4" height="41.40" fill="#5ba9d9"/>
<rect x="998.35" y="317.70" width="4.4" height="11.40" fill="#d94f4f"/>
<rect x="998.35" y="222.60" width="4.4" height="95.10" fill="#c0c0c0"/>
<rect x="1003.66" y="368.80" width="4.4" height="1.70" fill="#5ba9d9"/>
<rect x="1003.66" y="359.50" width="4.4" height="9.30" fill="#d94f4f"/>
<rect x="1003.66" y="307.60" width="4.4" height="51.90" fill="#c0c0c0"/>
<rect x="1008.98" y="354.50" width="4.4" height="16.00" fill="#5ba9d9"/>
<rect x="1008.98" y="341.40" width="4.4" height="13.10" fill="#d94f4f"/>
<rect x="1008.98" y="266.20" width="4.4" height="75.20" fill="#c0c0c0"/>
<rect x="1014.29" y="370.50" width="4.4" height="7.10" fill="#5ba9d9"/>
<rect x="1014.29" y="337.20" width="4.4" height="33.30" fill="#d94f4f"/>
<rect x="1014.29" y="280.70" width="4.4" height="56.50" fill="#c0c0c0"/>
<rect x="1019.60" y="280.00" width="4.4" height="90.50" fill="#5ba9d9"/>
<rect x="1019.60" y="264.50" width="4.4" height="15.50" fill="#d94f4f"/>
<rect x="1019.60" y="33.30" width="4.4" height="231.20" fill="#c0c0c0"/>
<g stroke="#6e6e6e" stroke-width="1.5" fill="none">
<line x1="55.1" x2="55.1" y1="17" y2="426.8"/>
<line x1="1027.1" x2="1027.1" y1="17" y2="426.8"/>
<line x1="54.4" x2="1027.8" y1="426" y2="426"/>
</g>
<g stroke="#6e6e6e" stroke-width="1.1">
<line x1="49" x2="54.4" y1="419.14" y2="419.14"/>
<line x1="1027.8" x2="1033.4" y1="419.14" y2="419.14"/>
<line x1="55.8" x2="59" y1="402.93" y2="402.93"/>
<line x1="1023.8" x2="1026.4" y1="402.93" y2="402.93"/>
<line x1="55.8" x2="59" y1="386.71" y2="386.71"/>
<line x1="1023.8" x2="1026.4" y1="386.71" y2="386.71"/>
<line x1="49" x2="54.4" y1="370.50" y2="370.50"/>
<line x1="1027.8" x2="1033.4" y1="370.50" y2="370.50"/>
<line x1="55.8" x2="59" y1="354.29" y2="354.29"/>
<line x1="1023.8" x2="1026.4" y1="354.29" y2="354.29"/>
<line x1="55.8" x2="59" y1="338.07" y2="338.07"/>
<line x1="1023.8" x2="1026.4" y1="338.07" y2="338.07"/>
<line x1="49" x2="54.4" y1="321.86" y2="321.86"/>
<line x1="1027.8" x2="1033.4" y1="321.86" y2="321.86"/>
<line x1="55.8" x2="59" y1="305.65" y2="305.65"/>
<line x1="1023.8" x2="1026.4" y1="305.65" y2="305.65"/>
<line x1="55.8" x2="59" y1="289.43" y2="289.43"/>
<line x1="1023.8" x2="1026.4" y1="289.43" y2="289.43"/>
<line x1="49" x2="54.4" y1="273.22" y2="273.22"/>
<line x1="1027.8" x2="1033.4" y1="273.22" y2="273.22"/>
<line x1="55.8" x2="59" y1="257.01" y2="257.01"/>
<line x1="1023.8" x2="1026.4" y1="257.01" y2="257.01"/>
<line x1="55.8" x2="59" y1="240.79" y2="240.79"/>
<line x1="1023.8" x2="1026.4" y1="240.79" y2="240.79"/>
<line x1="49" x2="54.4" y1="224.58" y2="224.58"/>
<line x1="1027.8" x2="1033.4" y1="224.58" y2="224.58"/>
<line x1="55.8" x2="59" y1="208.37" y2="208.37"/>
<line x1="1023.8" x2="1026.4" y1="208.37" y2="208.37"/>
<line x1="55.8" x2="59" y1="192.15" y2="192.15"/>
<line x1="1023.8" x2="1026.4" y1="192.15" y2="192.15"/>
<line x1="49" x2="54.4" y1="175.94" y2="175.94"/>
<line x1="1027.8" x2="1033.4" y1="175.94" y2="175.94"/>
<line x1="55.8" x2="59" y1="159.73" y2="159.73"/>
<line x1="1023.8" x2="1026.4" y1="159.73" y2="159.73"/>
<line x1="55.8" x2="59" y1="143.51" y2="143.51"/>
<line x1="1023.8" x2="1026.4" y1="143.51" y2="143.51"/>
<line x1="49" x2="54.4" y1="127.30" y2="127.30"/>
<line x1="1027.8" x2="1033.4" y1="127.30" y2="127.30"/>
<line x1="55.8" x2="59" y1="111.09" y2="111.09"/>
<line x1="1023.8" x2="1026.4" y1="111.09" y2="111.09"/>
<line x1="55.8" x2="59" y1="94.87" y2="94.87"/>
<line x1="1023.8" x2="1026.4" y1="94.87" y2="94.87"/>
<line x1="49" x2="54.4" y1="78.66" y2="78.66"/>
<line x1="1027.8" x2="1033.4" y1="78.66" y2="78.66"/>
<line x1="55.8" x2="59" y1="62.45" y2="62.45"/>
<line x1="1023.8" x2="1026.4" y1="62.45" y2="62.45"/>
<line x1="55.8" x2="59" y1="46.23" y2="46.23"/>
<line x1="1023.8" x2="1026.4" y1="46.23" y2="46.23"/>
<line x1="49" x2="54.4" y1="30.02" y2="30.02"/>
<line x1="1027.8" x2="1033.4" y1="30.02" y2="30.02"/>
<line x1="60.15" x2="60.15" y1="426.7" y2="433.3"/>
<line x1="123.91" x2="123.91" y1="426.7" y2="429.6"/>
<line x1="187.66" x2="187.66" y1="426.7" y2="433.3"/>
<line x1="251.42" x2="251.42" y1="426.7" y2="429.6"/>
<line x1="315.17" x2="315.17" y1="426.7" y2="433.3"/>
<line x1="378.93" x2="378.93" y1="426.7" y2="429.6"/>
<line x1="442.69" x2="442.69" y1="426.7" y2="433.3"/>
<line x1="506.44" x2="506.44" y1="426.7" y2="429.6"/>
<line x1="570.20" x2="570.20" y1="426.7" y2="433.3"/>
<line x1="633.95" x2="633.95" y1="426.7" y2="429.6"/>
<line x1="697.71" x2="697.71" y1="426.7" y2="433.3"/>
<line x1="761.47" x2="761.47" y1="426.7" y2="429.6"/>
<line x1="825.22" x2="825.22" y1="426.7" y2="433.3"/>
<line x1="888.98" x2="888.98" y1="426.7" y2="429.6"/>
<line x1="952.73" x2="952.73" y1="426.7" y2="433.3"/>
<line x1="1016.49" x2="1016.49" y1="426.7" y2="429.6"/>
</g>
<text class="n" x="8.92" y="423.84" textLength="39.5" lengthAdjust="spacingAndGlyphs">-6000</text>
<text class="n" x="1035.8" y="423.84" textLength="39.5" lengthAdjust="spacingAndGlyphs">-6000</text>
<text class="n" x="39.78" y="375.20" textLength="8.6" lengthAdjust="spacingAndGlyphs">0</text>
<text class="n" x="1035.8" y="375.20" textLength="8.6" lengthAdjust="spacingAndGlyphs">0</text>
<text class="n" x="13.92" y="326.56" textLength="34.5" lengthAdjust="spacingAndGlyphs">6000</text>
<text class="n" x="1035.8" y="326.56" textLength="34.5" lengthAdjust="spacingAndGlyphs">6000</text>
<text class="n" x="5.30" y="277.92" textLength="43.1" lengthAdjust="spacingAndGlyphs">12000</text>
<text class="n" x="1035.8" y="277.92" textLength="43.1" lengthAdjust="spacingAndGlyphs">12000</text>
<text class="n" x="5.30" y="229.28" textLength="43.1" lengthAdjust="spacingAndGlyphs">18000</text>
<text class="n" x="1035.8" y="229.28" textLength="43.1" lengthAdjust="spacingAndGlyphs">18000</text>
<text class="n" x="5.30" y="180.64" textLength="43.1" lengthAdjust="spacingAndGlyphs">24000</text>
<text class="n" x="1035.8" y="180.64" textLength="43.1" lengthAdjust="spacingAndGlyphs">24000</text>
<text class="n" x="5.30" y="132.00" textLength="43.1" lengthAdjust="spacingAndGlyphs">30000</text>
<text class="n" x="1035.8" y="132.00" textLength="43.1" lengthAdjust="spacingAndGlyphs">30000</text>
<text class="n" x="5.30" y="83.36" textLength="43.1" lengthAdjust="spacingAndGlyphs">36000</text>
<text class="n" x="1035.8" y="83.36" textLength="43.1" lengthAdjust="spacingAndGlyphs">36000</text>
<text class="n" x="5.30" y="34.72" textLength="43.1" lengthAdjust="spacingAndGlyphs">42000</text>
<text class="n" x="1035.8" y="34.72" textLength="43.1" lengthAdjust="spacingAndGlyphs">42000</text>
<text class="n" x="39.75" y="447.2" textLength="41.4" lengthAdjust="spacingAndGlyphs">06-12</text>
<text class="n" x="167.26" y="447.2" textLength="41.4" lengthAdjust="spacingAndGlyphs">08-12</text>
<text class="n" x="294.77" y="447.2" textLength="41.4" lengthAdjust="spacingAndGlyphs">10-12</text>
<text class="n" x="422.29" y="447.2" textLength="41.4" lengthAdjust="spacingAndGlyphs">12-12</text>
<text class="n" x="549.80" y="447.2" textLength="41.4" lengthAdjust="spacingAndGlyphs">14-12</text>
<text class="n" x="677.31" y="447.2" textLength="41.4" lengthAdjust="spacingAndGlyphs">16-12</text>
<text class="n" x="804.82" y="447.2" textLength="41.4" lengthAdjust="spacingAndGlyphs">18-12</text>
<text class="n" x="932.33" y="447.2" textLength="41.4" lengthAdjust="spacingAndGlyphs">20-12</text>
<text class="u" x="57" y="20">亿元</text>
<text class="u" x="1004.4" y="20">亿元</text>
<rect x="341.5" y="461.2" width="25.2" height="19.3" fill="#5ba9d9"/>
<text class="c" x="368.3" y="476.6" textLength="58.5" lengthAdjust="spacingAndGlyphs">短期贷款</text>
<rect x="477" y="461.2" width="25.2" height="19.3" fill="#d94f4f"/>
<text class="c" x="504.3" y="476.6" textLength="58" lengthAdjust="spacingAndGlyphs">票据融资</text>
<rect x="613" y="461.2" width="25.2" height="19.3" fill="#c0c0c0"/>
<text class="c" x="639.4" y="476.6" textLength="102.3" lengthAdjust="spacingAndGlyphs">新增中长期贷款</text>
<defs><filter id="sh" x="-10%" y="-20%" width="125%" height="150%" color-interpolation-filters="sRGB"><feGaussianBlur in="SourceAlpha" stdDeviation="0.5" result="b"/><feOffset in="b" dx="0.9" dy="0.9" result="o"/><feFlood flood-color="#444" flood-opacity="0.85"/><feComposite in2="o" operator="in" result="s1"/><feGaussianBlur in="SourceAlpha" stdDeviation="0.9" result="b2"/><feFlood flood-color="#666" flood-opacity="0.3"/><feComposite in2="b2" operator="in" result="s2"/><feMerge><feMergeNode in="s2"/><feMergeNode in="s1"/><feMergeNode in="SourceGraphic"/></feMerge></filter>
<mask id="mb" maskUnits="userSpaceOnUse" x="880" y="430" width="70" height="60"><rect x="880" y="430" width="70" height="60" fill="#fff"/><ellipse cx="918.9" cy="460" rx="14.5" ry="13.1" fill="#000"/><circle cx="899.9" cy="445.9" r="2" fill="#000"/><circle cx="911.3" cy="445.9" r="2" fill="#000"/></mask>
<mask id="mf" maskUnits="userSpaceOnUse" x="880" y="430" width="70" height="60"><rect x="880" y="430" width="70" height="60" fill="#fff"/><circle cx="914.5" cy="456" r="1.7" fill="#000"/><circle cx="923.9" cy="456" r="1.7" fill="#000"/></mask></defs>
<g filter="url(#sh)" fill="#fff">
<g mask="url(#mb)"><ellipse cx="905.4" cy="449" rx="15.2" ry="13"/><polygon points="895.6,458.5 894.6,466 903,461.6"/></g>
<g mask="url(#mf)"><ellipse cx="918.9" cy="460" rx="13" ry="11.6"/><polygon points="922.5,470.8 929.2,473 927.5,467.5"/></g>
</g>
<text font-size="26" fill="#fff" filter="url(#sh)" textLength="107" lengthAdjust="spacingAndGlyphs" transform="translate(935.7 465.2) skewX(-10)">经济机器</text>
<text font-size="14.6" fill="#ff0a0a" font-style="italic" textLength="110.5" lengthAdjust="spacingAndGlyphs" transform="translate(954.6 501.4) skewX(-12)">数据来源：Wind</text>
</svg></body></html>
